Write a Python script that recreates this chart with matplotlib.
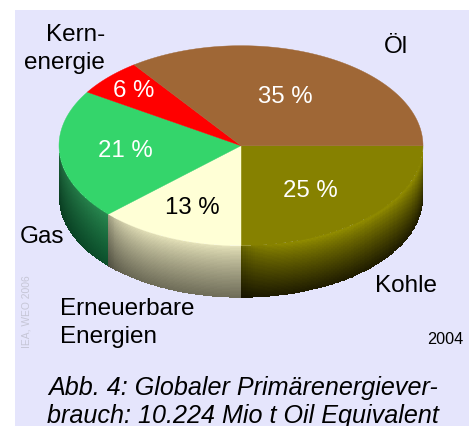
import numpy as np
import matplotlib
matplotlib.use('Agg')
import matplotlib.pyplot as plt
from matplotlib.colors import to_rgb
from matplotlib.patches import Polygon, Rectangle

plt.rcParams['font.family'] = ['Liberation Sans', 'DejaVu Sans']

# clockwise from east: Kohle, Erneuerbare, Gas, Kernenergie, Oel
anteile = [25, 13, 21, 6, 35]
farben_oben = ['#868100', '#FFFFD6', '#34D56B', '#FF0000', '#9F6736']
seite_oben = ['#979200', '#E8E5BC', '#2A8C52', '#CC0000', '#7F5228']
seite_unten = ['#1F1C00', '#6E6C58', '#0B4F2B', '#660000', '#40290F']
wert_farben = ['white', 'black', 'white', 'white', 'white']
wert_pos = [(310, 197), (192.5, 214), (125.7, 157), (134, 97), (285.7, 103)]

cx, cy = 241, 146.7
rx, ry = 182, 100
tiefe = 52

fig = plt.figure(figsize=(4.75, 4.27), dpi=100, facecolor='white')
ax = fig.add_axes([0, 0, 1, 1])
ax.set_xlim(0, 475)
ax.set_ylim(427, 0)
ax.axis('off')
ax.add_patch(Rectangle((15, 11), 454, 416, facecolor='#E5E5FC', edgecolor='none', zorder=0))

kanten = np.concatenate([[0], np.cumsum(anteile)]) / 100 * 360

# side wall, only the part of the rim facing the viewer
for i in range(len(anteile)):
	a0, a1 = kanten[i], min(kanten[i + 1], 180)
	if a0 >= 180:
		continue
	a = np.radians(np.linspace(a0, a1, 120))
	t = np.linspace(0, 1, 40)
	X = cx + rx * np.cos(a)[None, :] * np.ones((40, 1))
	Y = cy + ry * np.sin(a)[None, :] + tiefe * t[:, None]
	tm = (t[:-1] + t[1:]) / 2
	um = np.linspace(0, 1, 119)
	o, u = np.array(to_rgb(seite_oben[i])), np.array(to_rgb(seite_unten[i]))
	s = tm[:, None, None] ** 0.8
	C = o * (1 - s) + u * s
	# darker band next to the seam, gas gets darker towards the left
	if i == 0:
		f = 1 - 0.3 * np.exp(-(1 - um) * 14)
	elif i == 1:
		f = 1 - 0.28 * np.exp(-(1 - um) * 9)
	else:
		f = 1 - 0.3 * um
	C = np.repeat(C, 119, axis=1) * f[None, :, None]
	ax.pcolormesh(X, Y, np.clip(C, 0, 1), shading='flat', zorder=1, antialiased=False, linewidth=0, rasterized=True)

# top face
for i in range(len(anteile)):
	a = np.radians(np.linspace(kanten[i], kanten[i + 1], 100))
	punkte = np.column_stack([cx + rx * np.cos(a), cy + ry * np.sin(a)])
	punkte = np.vstack([[cx, cy], punkte])
	ax.add_patch(Polygon(punkte, closed=True, facecolor=farben_oben[i], edgecolor=farben_oben[i], linewidth=0.3, zorder=2))
	ax.text(wert_pos[i][0], wert_pos[i][1], '%d %%' % anteile[i], color=wert_farben[i],
		fontsize=17.3, ha='center', va='baseline', zorder=3)

ax.text(105, 41, 'Kern-', fontsize=17.5, ha='right', va='baseline')
ax.text(105, 69, 'energie', fontsize=17.5, ha='right', va='baseline')
ax.text(395.5, 53, 'Öl', fontsize=17.5, ha='center', va='baseline')
ax.text(20, 243, 'Gas', fontsize=17.5, ha='left', va='baseline')
ax.text(375, 292, 'Kohle', fontsize=17.5, ha='left', va='baseline')
ax.text(60, 315, 'Erneuerbare', fontsize=17.5, ha='left', va='baseline')
ax.text(60, 343, 'Energien', fontsize=17.5, ha='left', va='baseline')
ax.text(463, 344, '2004', fontsize=11.7, ha='right', va='baseline')
ax.text(27, 312, 'IEA, WEO 2006', fontsize=7.4, rotation=90, color='#C6C6D6', ha='center', va='center')
ax.text(243, 395, 'Abb. 4: Globaler Primärenergiever-', fontsize=18.1, style='italic', ha='center', va='baseline')
ax.text(243, 423, 'brauch: 10.224 Mio t Oil Equivalent', fontsize=18.1, style='italic', ha='center', va='baseline')

fig.savefig('out.png', dpi=100)
